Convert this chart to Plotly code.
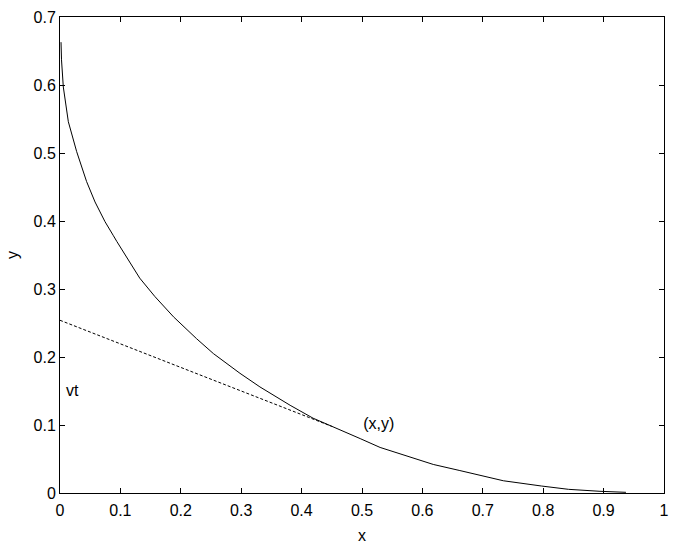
import plotly.graph_objects as go

# pursuit curve points
curve_x = [0.0017, 0.0025, 0.0055, 0.0138, 0.0276, 0.044, 0.058, 0.0745, 0.088, 0.094, 0.132,
           0.157, 0.188, 0.226, 0.254, 0.298, 0.331, 0.381, 0.419, 0.464, 0.497, 0.530,
           0.568, 0.618, 0.662, 0.701, 0.734, 0.797, 0.842, 0.894, 0.937]
curve_y = [0.663, 0.637, 0.597, 0.546, 0.502, 0.458, 0.428, 0.399, 0.379, 0.370, 0.316,
           0.289, 0.259, 0.227, 0.205, 0.176, 0.156, 0.129, 0.110, 0.092, 0.080, 0.067,
           0.056, 0.042, 0.033, 0.025, 0.018, 0.0103, 0.0054, 0.0025, 0.001]

# tangent line from (0, vt) to (x, y)
tangent_x = [0.0, 0.45]
tangent_y = [0.254, 0.098]

labels_text = ["vt", "(x,y)"]
labels_x = [0.01, 0.502]
labels_y = [0.149, 0.100]

x_ticks = [0, 0.1, 0.2, 0.3, 0.4, 0.5, 0.6, 0.7, 0.8, 0.9, 1]
x_tick_text = ["0", "0.1", "0.2", "0.3", "0.4", "0.5", "0.6", "0.7", "0.8", "0.9", "1"]
y_ticks = [0, 0.1, 0.2, 0.3, 0.4, 0.5, 0.6, 0.7]
y_tick_text = ["0", "0.1", "0.2", "0.3", "0.4", "0.5", "0.6", "0.7"]

font = dict(family="Arial, Liberation Sans, sans-serif", size=16, color="black")

fig = go.Figure()
fig.add_trace(go.Scatter(x=curve_x, y=curve_y, mode="lines",
                         line=dict(color="black", width=1), showlegend=False))
fig.add_trace(go.Scatter(x=tangent_x, y=tangent_y, mode="lines",
                         line=dict(color="black", width=1, dash="3px,2px"), showlegend=False))
fig.add_trace(go.Scatter(x=labels_x, y=labels_y, mode="text", text=labels_text,
                         textposition="middle right", textfont=font, showlegend=False))

axis_common = dict(showline=True, linecolor="black", linewidth=1, mirror="allticks",
                   ticks="inside", ticklen=5, tickcolor="black", showgrid=False,
                   zeroline=False, tickfont=font, automargin=False)
fig.update_xaxes(range=[0, 1], tickvals=x_ticks, ticktext=x_tick_text, ticklabelstandoff=3,
                 title=dict(text="x", font=font, standoff=11), **axis_common)
fig.update_yaxes(range=[0, 0.7], tickvals=y_ticks, ticktext=y_tick_text,
                 title=dict(text="y", font=font, standoff=10), **axis_common)
fig.update_layout(width=673, height=544, margin=dict(l=60, r=9, t=17, b=51),
                  plot_bgcolor="white", paper_bgcolor="white", font=font)
fig.write_html("out.html", config={"displayModeBar": False},
               post_script="document.body.style.margin='0px';document.body.style.overflow='hidden';")
